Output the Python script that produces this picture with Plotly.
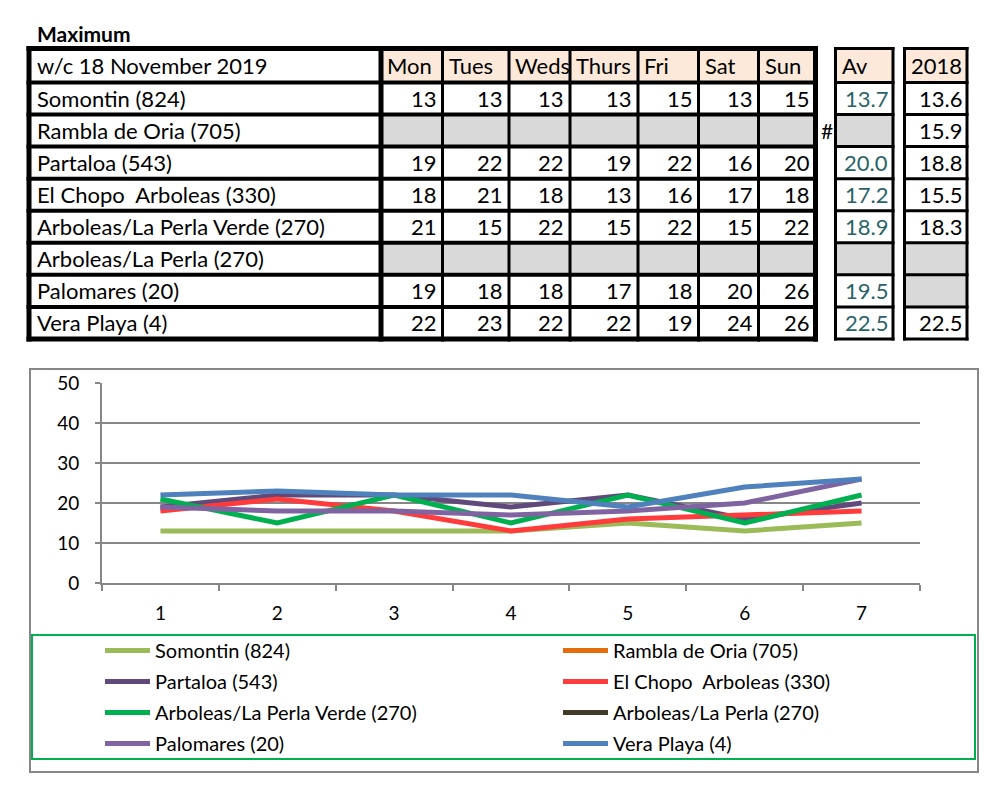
import plotly.graph_objects as go

# ---------------- data ----------------
title_text = "Maximum"
week_label = "w/c 18 November 2019"
day_labels = ["Mon", "Tues", "Weds", "Thurs", "Fri", "Sat", "Sun"]
avg_label = "Av"
prev_label = "2018"
x_labels = ["1", "2", "3", "4", "5", "6", "7"]

stations = [
    "Somontin (824)",
    "Rambla de Oria (705)",
    "Partaloa (543)",
    "El Chopo\u00a0 Arboleas (330)",
    "Arboleas/La Perla Verde (270)",
    "Arboleas/La Perla (270)",
    "Palomares (20)",
    "Vera Playa (4)",
]

somontin = [13, 13, 13, 13, 15, 13, 15]
rambla_de_oria = [None, None, None, None, None, None, None]
partaloa = [19, 22, 22, 19, 22, 16, 20]
el_chopo = [18, 21, 18, 13, 16, 17, 18]
arboleas_verde = [21, 15, 22, 15, 22, 15, 22]
arboleas_perla = [None, None, None, None, None, None, None]
palomares = [19, 18, 18, 17, 18, 20, 26]
vera_playa = [22, 23, 22, 22, 19, 24, 26]

averages = [13.7, None, 20.0, 17.2, 18.9, None, 19.5, 22.5]
values_2018 = [13.6, 15.9, 18.8, 15.5, 18.3, None, None, 22.5]
missing_marker = "#"

series = [somontin, rambla_de_oria, partaloa, el_chopo,
          arboleas_verde, arboleas_perla, palomares, vera_playa]

# ---------------- style ----------------
colors = ["#9BBB59", "#E46C0A", "#604A7B", "#FF3B3B",
          "#00B050", "#403A26", "#8064A2", "#4F81BD"]
FONT = "Lato"
PEACH = "#FDE9D9"
GREY = "#D9D9D9"
AXIS_GREY = "#878787"
AV_COLOR = "#2A6468"

FIG_W, FIG_H = 987, 800
PL, PR, PT, PB = 102, 920, 383, 583   # plot area in pixels
PW, PH = PR - PL, PB - PT


def X(px):
    return (px - PL) / PW


def Y(py):
    return (PB - py) / PH


shapes = []
annotations = []


def rect(x0, y0, x1, y1, fill):
    shapes.append(dict(type="rect", xref="paper", yref="paper",
                       x0=X(x0), x1=X(x1), y0=Y(y0), y1=Y(y1),
                       fillcolor=fill, line=dict(width=0), layer="below"))


def hline(x0, x1, y, w, color="black"):
    shapes.append(dict(type="line", xref="paper", yref="paper",
                       x0=X(x0), x1=X(x1), y0=Y(y), y1=Y(y),
                       line=dict(color=color, width=w)))


def vline(x, y0, y1, w, color="black"):
    shapes.append(dict(type="line", xref="paper", yref="paper",
                       x0=X(x), x1=X(x), y0=Y(y0), y1=Y(y1),
                       line=dict(color=color, width=w)))


def text(s, x, y, anchor, size=22, color="black", bold=False):
    annotations.append(dict(xref="paper", yref="paper", x=X(x), y=Y(y),
                            text=("<b>%s</b>" % s) if bold else s,
                            showarrow=False, xanchor=anchor, yanchor="middle",
                            font=dict(family=FONT, size=size, color=color)))


# ---------------- table geometry ----------------
top = 48.5
header_bottom = 82.5
row_h = 32.06
n_rows = len(stations)
row_edges = [top] + [header_bottom + i * row_h for i in range(n_rows + 1)]
col_edges = [29, 381, 442.5, 509, 570, 638, 698.5, 758.5, 815.5]
av_edges = [835.5, 893]
prev_edges = [904.5, 967]

# fills
for j in range(len(day_labels)):
    rect(col_edges[j + 1], row_edges[0], col_edges[j + 2], row_edges[1], PEACH)
rect(av_edges[0], row_edges[0], av_edges[1], row_edges[1], PEACH)
rect(prev_edges[0], row_edges[0], prev_edges[1], row_edges[1], PEACH)
for i, vals in enumerate(series):
    y0, y1 = row_edges[i + 1], row_edges[i + 2]
    for j, v in enumerate(vals):
        if v is None:
            rect(col_edges[j + 1], y0, col_edges[j + 2], y1, GREY)
    if averages[i] is None:
        rect(av_edges[0], y0, av_edges[1], y1, GREY)
    if values_2018[i] is None:
        rect(prev_edges[0], y0, prev_edges[1], y1, GREY)

# main table lines
for k, y in enumerate(row_edges):
    w = 5 if k in (0, len(row_edges) - 1) else 4
    hline(col_edges[0] - 2.5, col_edges[-1] + 2.5, y, w)
for k, x in enumerate(col_edges):
    w = 5 if k in (0, 1, len(col_edges) - 1) else 3
    vline(x, row_edges[0] - 2.5, row_edges[-1] + 2.5, w)
# Av and 2018 boxes
for edges in (av_edges, prev_edges):
    for y in row_edges:
        hline(edges[0] - 1.5, edges[1] + 1.5, y, 3)
    for x in edges:
        vline(x, row_edges[0] - 1.5, row_edges[-1] + 1.5, 3)

# texts
text(title_text, 35, 33, "left", size=21, bold=True)
hy = (row_edges[0] + row_edges[1]) / 2
text(week_label, 35, hy, "left")
for j, d in enumerate(day_labels):
    text(d, col_edges[j + 1] + 4, hy, "left")
text(avg_label, av_edges[0] + 4, hy, "left")
text(prev_label, prev_edges[1] - 3, hy, "right")
for i, name in enumerate(stations):
    cy = (row_edges[i + 1] + row_edges[i + 2]) / 2
    text(name, 35, cy, "left")
    for j, v in enumerate(series[i]):
        if v is not None:
            text(str(v), col_edges[j + 2] - 4, cy, "right")
    if averages[i] is not None:
        text("%.1f" % averages[i], av_edges[1] - 3, cy, "right", color=AV_COLOR)
    if values_2018[i] is not None:
        text("%.1f" % values_2018[i], prev_edges[1] - 3, cy, "right")
    if all(v is None for v in series[i]) and averages[i] is None and values_2018[i] is not None:
        text(missing_marker, 827, cy, "center", size=21)

# chart outer border and legend box
shapes.append(dict(type="rect", xref="paper", yref="paper",
                   x0=X(30), x1=X(978), y0=Y(369), y1=Y(772),
                   line=dict(color=AXIS_GREY, width=2), fillcolor="rgba(0,0,0,0)",
                   layer="below"))
shapes.append(dict(type="rect", xref="paper", yref="paper",
                   x0=X(32), x1=X(975), y0=Y(635), y1=Y(759),
                   line=dict(color="#00B050", width=2), fillcolor="rgba(0,0,0,0)"))

# ---------------- traces ----------------
fig = go.Figure()
for i, (name, vals) in enumerate(zip(stations, series)):
    fig.add_trace(go.Scatter(
        x=x_labels, y=vals, mode="lines", name=name,
        line=dict(color=colors[i], width=5),
        legend="legend" if i % 2 == 0 else "legend2",
        legendgroup=name,
        hoverinfo="skip",
    ))

legend_common = dict(
    orientation="v", xanchor="left", yanchor="top",
    bgcolor="rgba(0,0,0,0)", borderwidth=0,
    font=dict(family=FONT, size=20, color="black"),
    tracegroupgap=2, itemwidth=45,
)

fig.update_layout(
    width=FIG_W, height=FIG_H,
    margin=dict(l=PL, r=FIG_W - PR, t=PT, b=FIG_H - PB, pad=0),
    paper_bgcolor="white", plot_bgcolor="white",
    font=dict(family=FONT, color="black"),
    showlegend=True,
    legend=dict(x=X(100), y=Y(631), **legend_common),
    legend2=dict(x=X(558), y=Y(631), **legend_common),
    xaxis=dict(type="category", tickson="boundaries", ticks="outside",
               range=[-0.5, 6.5],
               ticklen=6, tickwidth=2, tickcolor=AXIS_GREY,
               showline=True, linecolor=AXIS_GREY, linewidth=2,
               showgrid=False, zeroline=False,
               tickfont=dict(family=FONT, size=19, color="black"),
               ticklabelstandoff=12, fixedrange=True),
    yaxis=dict(range=[0, 50], dtick=10, tick0=0, ticks="outside",
               ticklen=5, tickwidth=2, tickcolor=AXIS_GREY,
               showline=True, linecolor=AXIS_GREY, linewidth=2,
               showgrid=True, gridcolor=AXIS_GREY, gridwidth=2,
               zeroline=False,
               tickfont=dict(family=FONT, size=19, color="black"),
               ticklabelstandoff=12, fixedrange=True),
    shapes=shapes,
    annotations=annotations,
)

fig.write_html("out.html", config={"displayModeBar": False},
               post_script="document.body.style.margin='0';")
